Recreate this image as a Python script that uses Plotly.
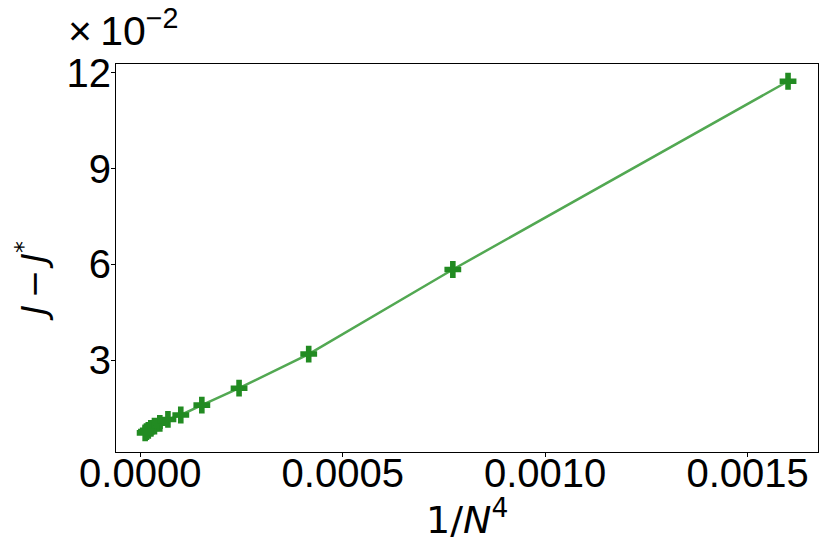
import plotly.graph_objects as go

# 1/N^4 values and J - J* (in units of 1e-2)
inv_n4 = [0.001600, 0.000772, 0.000416, 0.000244, 0.000152, 0.000100,
          0.0000683, 0.0000482, 0.0000350, 0.0000260, 0.0000198, 0.0000153, 0.0000120]
j_diff = [11.74, 5.84, 3.19, 2.12, 1.59, 1.28,
          1.14, 1.02, 0.93, 0.86, 0.80, 0.76, 0.72]

y_ticks = [3, 6, 9, 12]
x_ticks = [0.0, 0.0005, 0.0010, 0.0015]
x_ticklabels = ["0.0000", "0.0005", "0.0010", "0.0015"]

tick_font = dict(family="Liberation Sans, Arial", size=40, color="black")

fig = go.Figure()

fig.add_trace(
    go.Scatter(
        x=inv_n4,
        y=j_diff,
        mode="lines+markers",
        line=dict(color="#52a852", width=2.5),
        marker=dict(symbol="cross", size=14, color="#228b22", line=dict(width=0)),
        showlegend=False,
    )
)

# the page body adds an 8px offset, margins are compensated for it
fig.update_layout(
    width=830,
    height=554,
    margin=dict(l=108, r=20, t=56, b=110),
    plot_bgcolor="white",
    paper_bgcolor="white",
    xaxis=dict(
        range=[-0.00006, 0.001674],
        tickvals=x_ticks,
        ticktext=x_ticklabels,
        ticks="outside",
        ticklen=4,
        tickcolor="black",
        tickfont=tick_font,
        ticklabelstandoff=-18,
        showgrid=False,
        zeroline=False,
        showline=True,
        linecolor="black",
        linewidth=1,
        mirror=True,
        automargin=False,
    ),
    yaxis=dict(
        range=[0.12, 12.28],
        tickvals=y_ticks,
        ticks="outside",
        ticklen=4,
        tickcolor="black",
        tickfont=tick_font,
        ticklabelstandoff=-8,
        showgrid=False,
        zeroline=False,
        showline=True,
        linecolor="black",
        linewidth=1,
        mirror=True,
        automargin=False,
    ),
    annotations=[
        dict(
            text="×\u200910<sup>−2</sup>",
            xref="paper", yref="paper",
            x=-0.0712, y=1.0,
            xanchor="left", yanchor="bottom",
            yshift=8,
            showarrow=False,
            font=dict(family="Liberation Sans, Arial", size=41, color="black"),
        ),
        dict(
            text="1/<i>N</i><sup>4</sup>",
            xref="paper", yref="paper",
            x=0.5, y=0.0,
            xanchor="center", yanchor="top",
            yshift=-38,
            showarrow=False,
            font=dict(family="DejaVu Sans", size=38, color="black"),
        ),
        dict(
            text="<i>J</i>\u2009−\u2009<i>J</i><sup>*</sup>",
            xref="paper", yref="paper",
            x=-0.12, y=0.44,
            xanchor="center", yanchor="middle",
            textangle=-90,
            showarrow=False,
            font=dict(family="DejaVu Sans", size=34, color="black"),
        ),
    ],
)

fig.write_html("out.html")
